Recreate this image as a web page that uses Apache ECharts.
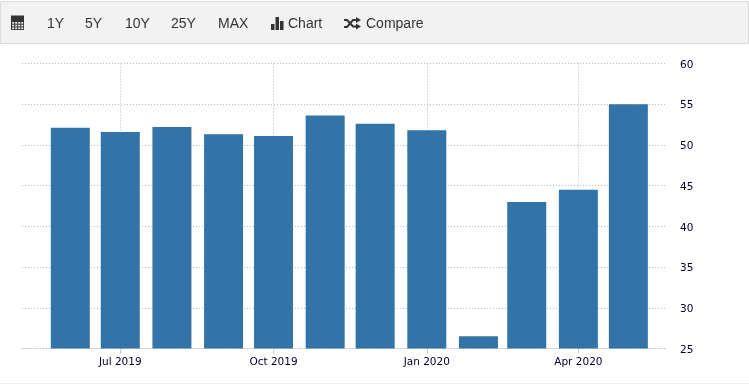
<!DOCTYPE html>
<html><head><meta charset="utf-8">
<style>html,body{margin:0;padding:0;background:#fff}#c{width:749px;height:385px}</style>
<script src="https://cdn.jsdelivr.net/npm/echarts@6/dist/echarts.min.js"></script>
</head><body><div id="c"></div>
<script>
const months = ['2019-06-01','2019-07-01','2019-08-01','2019-09-01','2019-10-01','2019-11-01','2019-12-01','2020-01-01','2020-02-01','2020-03-01','2020-04-01','2020-05-01'];
const values = [52.1,51.6,52.2,51.3,51.1,53.6,52.6,51.8,26.5,43.0,44.5,55.0];
const tickDates = ['2019-07-01','2019-10-01','2020-01-01','2020-04-01'];
const tickNames = ['Jul 2019','Oct 2019','Jan 2020','Apr 2020'];
const toolbarItems = [['1Y',47],['5Y',85],['10Y',125],['25Y',171],['MAX',218],['Chart',288],['Compare',366]];
const ts = s => { const [y,m,d]=s.split('-').map(Number); return Date.UTC(y,m-1,d); };
const tickTs = tickDates.map(ts);
const chart = echarts.init(document.getElementById('c'),null,{renderer:'canvas'});
const textC='#333';
const grid='#bbbbbb';
const graphics = [
 {type:'rect',shape:{x:0.5,y:1.5,width:748,height:42},style:{fill:'#f2f2f2',stroke:'#dcdcdc',lineWidth:1},silent:true,z:10},
 {type:'line',shape:{x1:0,y1:383.5,x2:749,y2:383.5},style:{stroke:'#eeeeee',lineWidth:1},silent:true},
 ...toolbarItems.map(([t,x])=>({type:'text',x,y:24,style:{text:t,font:'14px "Liberation Sans"',fill:textC,textVerticalAlign:'middle'},z:11})),
 {type:'rect',shape:{x:11,y:17,width:13,height:13},style:{fill:textC},z:11},
 {type:'rect',shape:{x:11,y:15.5,width:13,height:3},style:{fill:textC},z:11},
 ...[0,1,2].map(r=>[0,1,2,3].map(c=>({type:'rect',shape:{x:12.2+c*3,y:22+r*2.7,width:2,height:1.7},style:{fill:'#f2f2f2'},z:12}))).flat(),
 {type:'rect',shape:{x:271,y:24,width:3.5,height:6},style:{fill:textC},z:11},
 {type:'rect',shape:{x:275.5,y:17,width:3.5,height:13},style:{fill:textC},z:11},
 {type:'rect',shape:{x:280,y:21,width:3.5,height:9},style:{fill:textC},z:11},
 {type:'polyline',shape:{points:[[344,20],[347,20],[353,26.5],[356,26.5]]},style:{stroke:textC,fill:null,lineWidth:2},z:11},
 {type:'polyline',shape:{points:[[344,27],[347,27],[353,20],[356,20]]},style:{stroke:textC,fill:null,lineWidth:2},z:11},
 {type:'polygon',shape:{points:[[356,17],[361,20],[356,23]]},style:{fill:textC},z:11},
 {type:'polygon',shape:{points:[[356,23.5],[361,26.5],[356,29.5]]},style:{fill:textC},z:11}
];
chart.setOption({
 animation:false,
 backgroundColor:'#fff',
 graphic:graphics,
 grid:[{left:22,right:84,top:63.5,bottom:36.5},{left:22,right:84,top:65,bottom:35}],
 xAxis:[{type:'value',scale:true,gridIndex:0,
  min:ts('2019-05-03'),max:ts('2020-05-23'),
  axisLine:{show:true,lineStyle:{color:grid,type:[1,2]}},
  axisTick:{show:true,customValues:tickTs,length:5,lineStyle:{color:'#ccc'}},
  splitLine:{show:true,lineStyle:{color:grid,type:[1,2]}},
  axisLabel:{customValues:tickTs,margin:8,hideOverlap:false,fontFamily:'DejaVu Sans',fontSize:10.5,color:'#000028',
    formatter:v=>tickNames[tickTs.indexOf(+v)]||''}
 },{type:'value',gridIndex:1,show:false,min:0,max:1,splitLine:{show:false}}],
 yAxis:[{type:'value',position:'right',gridIndex:0,min:25,max:60,interval:5,
  axisLine:{show:false},axisTick:{show:false},axisLabel:{show:false},
  splitLine:{show:true,lineStyle:{color:grid,type:[1,2]}}
 },{type:'value',position:'right',gridIndex:1,min:25,max:60,interval:5,
  axisLine:{show:false},axisTick:{show:false},splitLine:{show:false},
  axisLabel:{margin:15,fontFamily:'DejaVu Sans',fontSize:10.5,color:'#000028'}
 }],
 series:[{type:'bar',xAxisIndex:0,yAxisIndex:0,data:months.map((m,i)=>[ts(m),values[i]]),barWidth:39,itemStyle:{color:'#3274a8'}}]
});
</script></body></html>
